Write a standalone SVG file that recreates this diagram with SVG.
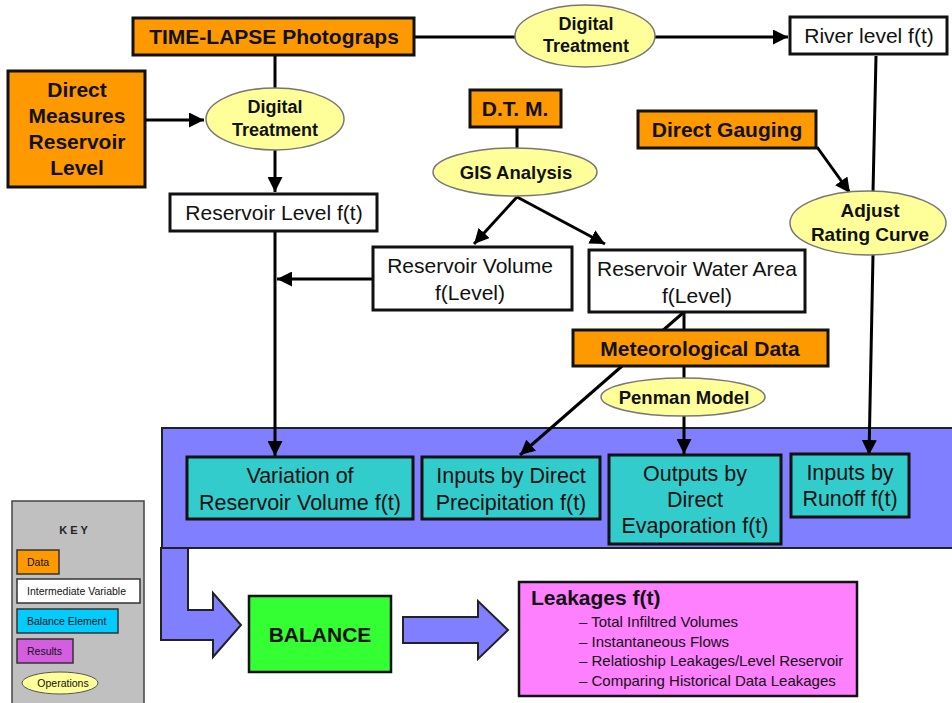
<svg xmlns="http://www.w3.org/2000/svg" width="952" height="703" viewBox="0 0 952 703">
<defs>
<marker id="ah" viewBox="0 0 10 10" refX="10" refY="5" markerWidth="5" markerHeight="5" markerUnits="strokeWidth" orient="auto">
<path d="M0,0 L10,5 L0,10 z" fill="#000"/>
</marker>
<style>
.data{fill:#FF9900;stroke:#111;stroke-width:3}
.var{fill:#fff;stroke:#111;stroke-width:3}
.bal{fill:#33CCCC;stroke:#111;stroke-width:3}
.op{fill:#FFFF99;stroke:#777;stroke-width:1.5}
.b{font-family:"Liberation Sans",Arial,sans-serif;font-weight:bold;fill:#111;text-anchor:middle}
.r{font-family:"Liberation Sans",Arial,sans-serif;fill:#111;text-anchor:middle}
.ln{fill:none;stroke:#000;stroke-width:3}
.k{font-family:"Liberation Sans",Arial,sans-serif;font-size:10.5px;fill:#111}
</style>
</defs>
<rect width="952" height="703" fill="#fff"/>

<g id="panel">
<rect x="162" y="428" width="792" height="120" fill="#7F7FFF" stroke="#222" stroke-width="2"/>
<polygon points="161,548 161,640 213,640 213,657 241,625 213,593 213,610 188,610 188,548" fill="#7F7FFF" stroke="#222" stroke-width="2"/>
<polygon points="403,617 478,617 478,601 508,630 478,659 478,643 403,643" fill="#7F7FFF" stroke="#222" stroke-width="2"/>
</g>

<g id="connectors">
<line class="ln" x1="414" y1="37" x2="516" y2="37"/>
<line class="ln" x1="654" y1="37" x2="788" y2="37" marker-end="url(#ah)"/>
<line class="ln" x1="275" y1="55" x2="275" y2="89"/>
<line class="ln" x1="275" y1="150" x2="275" y2="192" marker-end="url(#ah)"/>
<line class="ln" x1="145" y1="120" x2="204" y2="120" marker-end="url(#ah)"/>
<line class="ln" x1="517" y1="128" x2="517" y2="149"/>
<line class="ln" x1="517" y1="197" x2="474" y2="244" marker-end="url(#ah)"/>
<line class="ln" x1="517" y1="197" x2="605" y2="244" marker-end="url(#ah)"/>
<line class="ln" x1="876" y1="56" x2="873" y2="192"/>
<line class="ln" x1="873" y1="255" x2="869" y2="455" marker-end="url(#ah)"/>
<line class="ln" x1="817" y1="147" x2="850" y2="193" marker-end="url(#ah)"/>
<line class="ln" x1="275" y1="231" x2="275" y2="456" marker-end="url(#ah)"/>
<line class="ln" x1="373" y1="279" x2="277" y2="279" marker-end="url(#ah)"/>
<line class="ln" x1="684" y1="312" x2="520" y2="455" marker-end="url(#ah)"/>
<line class="ln" x1="684" y1="312" x2="684" y2="330"/>
<line class="ln" x1="684" y1="366" x2="684" y2="379"/>
<line class="ln" x1="684" y1="416" x2="684" y2="454" marker-end="url(#ah)"/>
</g>

<g id="timelapse">
<rect class="data" x="133" y="18" width="281" height="37"/>
<text class="b" x="274" y="44" font-size="21">TIME-LAPSE Photograps</text>
</g>
<g id="direct-measures">
<rect class="data" x="8" y="71" width="137" height="116"/>
<text class="b" x="77" y="97" font-size="21">Direct</text>
<text class="b" x="77" y="123" font-size="21">Measures</text>
<text class="b" x="77" y="149" font-size="21">Reservoir</text>
<text class="b" x="77" y="175" font-size="21">Level</text>
</g>
<g id="digital-treatment-1">
<ellipse class="op" cx="275" cy="119" rx="69" ry="31"/>
<text class="b" x="275" y="113" font-size="18">Digital</text>
<text class="b" x="275" y="136" font-size="18">Treatment</text>
</g>
<g id="digital-treatment-2">
<ellipse class="op" cx="585" cy="36" rx="70" ry="31"/>
<text class="b" x="586" y="30" font-size="18">Digital</text>
<text class="b" x="586" y="52" font-size="18">Treatment</text>
</g>
<g id="river-level">
<rect class="var" x="790" y="17" width="157" height="37"/>
<text class="r" x="869" y="43" font-size="21">River level f(t)</text>
</g>
<g id="reservoir-level">
<rect class="var" x="170" y="194" width="207" height="37"/>
<text class="r" x="274" y="220" font-size="21">Reservoir Level f(t)</text>
</g>
<g id="dtm">
<rect class="data" x="470" y="90" width="91" height="37"/>
<text class="b" x="515" y="116" font-size="21">D.T. M.</text>
</g>
<g id="gis">
<ellipse class="op" cx="515" cy="172" rx="82" ry="24"/>
<text class="b" x="516" y="179" font-size="18.5">GIS Analysis</text>
</g>
<g id="direct-gauging">
<rect class="data" x="638" y="111" width="178" height="37"/>
<text class="b" x="727" y="137" font-size="21">Direct Gauging</text>
</g>
<g id="adjust-rating">
<ellipse class="op" cx="868" cy="223" rx="78" ry="32"/>
<text class="b" x="870" y="217" font-size="19">Adjust</text>
<text class="b" x="870" y="241" font-size="19">Rating Curve</text>
</g>
<g id="reservoir-volume">
<rect class="var" x="373" y="247" width="199" height="63"/>
<text class="r" x="470" y="273" font-size="21">Reservoir Volume</text>
<text class="r" x="470" y="300" font-size="21">f(Level)</text>
</g>
<g id="water-area">
<rect class="var" x="589" y="250" width="216" height="62"/>
<text class="r" x="697" y="276" font-size="21">Reservoir Water Area</text>
<text class="r" x="697" y="303" font-size="21">f(Level)</text>
</g>
<g id="meteo">
<rect class="data" x="573" y="330" width="255" height="36"/>
<text class="b" x="700" y="356" font-size="21">Meteorological Data</text>
</g>
<g id="penman">
<ellipse class="op" cx="683" cy="397" rx="82" ry="19"/>
<text class="b" x="684" y="404" font-size="18.5">Penman Model</text>
</g>

<g id="variation">
<rect class="bal" x="187" y="457" width="226" height="62"/>
<text class="r" x="300" y="483" font-size="21.5">Variation of</text>
<text class="r" x="300" y="510" font-size="21.5">Reservoir Volume f(t)</text>
</g>
<g id="precipitation">
<rect class="bal" x="422" y="457" width="178" height="62"/>
<text class="r" x="511" y="483" font-size="21.5">Inputs by Direct</text>
<text class="r" x="511" y="510" font-size="21.5">Precipitation f(t)</text>
</g>
<g id="evaporation">
<rect class="bal" x="609" y="455" width="172" height="89"/>
<text class="r" x="695" y="481" font-size="21.5">Outputs by</text>
<text class="r" x="695" y="507" font-size="21.5">Direct</text>
<text class="r" x="695" y="533" font-size="21.5">Evaporation f(t)</text>
</g>
<g id="runoff">
<rect class="bal" x="791" y="454" width="118" height="63"/>
<text class="r" x="850" y="480" font-size="21.5">Inputs by</text>
<text class="r" x="850" y="506" font-size="21.5">Runoff f(t)</text>
</g>

<g id="balance">
<rect x="249" y="596" width="142" height="76" fill="#33FF33" stroke="#111" stroke-width="2.5"/>
<text class="b" x="320" y="642" font-size="21">BALANCE</text>
</g>
<g id="leakages">
<rect x="519" y="582" width="338" height="114" fill="#FF80FF" stroke="#111" stroke-width="2.5"/>
<text class="b" x="531" y="605" font-size="21" style="text-anchor:start">Leakages f(t)</text>
<g font-family="Liberation Sans,Arial,sans-serif" font-size="15" fill="#111">
<text x="579" y="627">– Total Infiltred Volumes</text>
<text x="579" y="647">– Instantaneous Flows</text>
<text x="579" y="666">– Relatioship Leakages/Level Reservoir</text>
<text x="579" y="686">– Comparing Historical Data Leakages</text>
</g>
</g>

<g id="key">
<rect x="12" y="501" width="132" height="210" fill="#C0C0C0" stroke="#444" stroke-width="1.5"/>
<text x="75" y="534" font-family="Liberation Sans,Arial,sans-serif" font-size="11" font-weight="bold" fill="#222" text-anchor="middle" letter-spacing="3">KEY</text>
<rect x="17" y="550" width="42" height="24" fill="#FF9900" stroke="#333" stroke-width="1.5"/>
<text class="k" x="27" y="566">Data</text>
<rect x="17" y="579" width="123" height="24" fill="#fff" stroke="#333" stroke-width="1.5"/>
<text class="k" x="27" y="595">Intermediate Variable</text>
<rect x="17" y="609" width="101" height="24" fill="#00CCFF" stroke="#333" stroke-width="1.5"/>
<text class="k" x="27" y="625">Balance Element</text>
<rect x="17" y="639" width="56" height="24" fill="#D35FE0" stroke="#333" stroke-width="1.5"/>
<text class="k" x="27" y="655">Results</text>
<ellipse cx="60" cy="683" rx="38" ry="11" fill="#FFFF99" stroke="#555" stroke-width="1"/>
<text class="k" x="63" y="687" text-anchor="middle">Operations</text>
</g>
</svg>
